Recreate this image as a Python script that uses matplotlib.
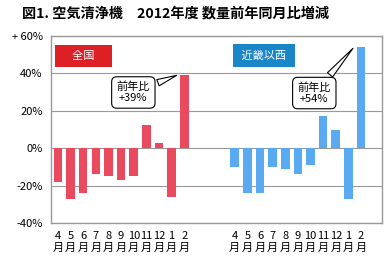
import matplotlib
matplotlib.use('Agg')
import matplotlib.pyplot as plt
import numpy as np

plt.rcParams['font.family'] = ['Noto Sans CJK JP', 'DejaVu Sans']

months = ['4', '5', '6', '7', '8', '9', '10', '11', '12', '1', '2']
zenkoku = [-18, -27, -24, -14, -15, -17, -15, 12.5, 2.7, -26, 39]
kinki = [-10, -24, -24, -10, -11, -14, -9, 17, 9.5, -27, 54]
yticks = [-40, -20, 0, 20, 40, 60]
ylabels = ['-40%', '-20%', '0%', '20%', '40%', '+ 60%']

red = '#EA4A5E'
blue = '#5AAAF2'

x1 = np.arange(len(months))
x2 = x1 + 14

fig = plt.figure(figsize=(3.9, 2.6), dpi=100)
ax = fig.add_axes([51/390, 1 - 223/260, 331/390, 187/260])

ax.bar(x1, zenkoku, width=0.68, color=red, zorder=3)
ax.bar(x2, kinki, width=0.68, color=blue, zorder=3)

ax.set_xlim(-0.55, 25.66)
ax.set_ylim(-40, 60)
ax.set_yticks(yticks)
ax.set_yticklabels(ylabels, fontsize=8)
ax.yaxis.grid(True, color='#999999', lw=0.8, zorder=0)
ax.tick_params(axis='both', length=0, pad=6)
ax.set_xticks(list(x1) + list(x2))
ax.set_xticklabels([m + '\n月' for m in months] * 2, fontsize=8, linespacing=1.15)
for s in ax.spines.values():
    s.set_color('#999999')
    s.set_linewidth(1.0)

fig.text(22/390, 1 - 13/260, '図1. 空気清浄機　2012年度 数量前年同月比増減',
         fontsize=10.2, fontweight='bold', va='center', ha='left')

# group labels
ax.text(2.0, 49.5, '　全国　', fontsize=8, color='white', ha='center', va='center',
        bbox=dict(boxstyle='square,pad=0.55', fc='#DD1F26', ec='none'), zorder=5)
ax.text(16.3, 49.5, ' 近畿以西 ', fontsize=8, color='white', ha='center', va='center',
        bbox=dict(boxstyle='square,pad=0.55', fc='#1A86C8', ec='none'), zorder=5)

# callouts
ax.annotate('前年比\n+39%', xy=(9.6, 39.5), xytext=(5.97, 29.8), fontsize=8,
            ha='center', va='center', linespacing=1.1,
            bbox=dict(boxstyle='round,pad=0.45', fc='white', ec='black', lw=0.8),
            arrowprops=dict(arrowstyle='wedge,tail_width=0.6,shrink_factor=0.5',
                            fc='white', ec='black', lw=0.8), zorder=6)
ax.annotate('前年比\n+54%', xy=(23.5, 54.5), xytext=(20.3, 29.5), fontsize=8,
            ha='center', va='center', linespacing=1.1,
            bbox=dict(boxstyle='round,pad=0.45', fc='white', ec='black', lw=0.8),
            arrowprops=dict(arrowstyle='wedge,tail_width=0.6,shrink_factor=0.5',
                            fc='white', ec='black', lw=0.8), zorder=6)

fig.savefig('out.png', dpi=100)
